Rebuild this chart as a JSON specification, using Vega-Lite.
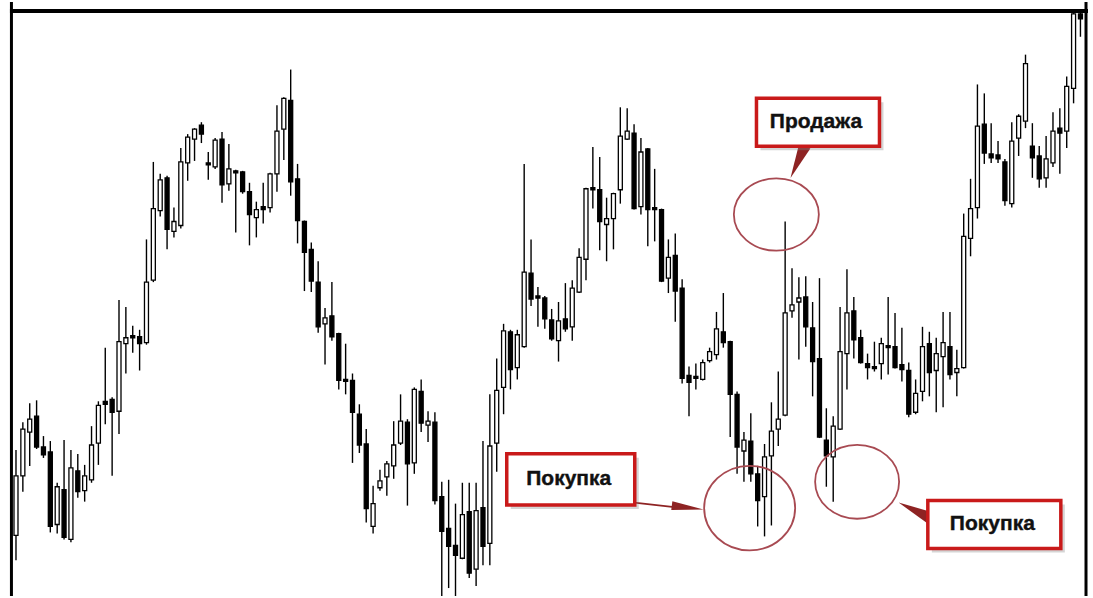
{
  "$schema": "https://vega.github.io/schema/vega-lite/v6.json",
  "width": 1093,
  "height": 598,
  "autosize": {"type": "fit", "contains": "padding"},
  "padding": 0,
  "background": "white",
  "config": {"view": {"stroke": null}},
  "datasets": {
    "candles": [
      {"i":0,"o":61,"h":147,"l":36,"c":121},{"i":1,"o":121,"h":175,"l":105,"c":168},{"i":2,"o":165,"h":194,"l":131,"c":178},{"i":3,"o":181,"h":197,"l":148,"c":150},{"i":4,"o":150,"h":161,"l":139,"c":142},{"i":5,"o":145,"h":156,"l":64,"c":70},{"i":6,"o":72,"h":114,"l":63,"c":110},{"i":7,"o":107,"h":157,"l":57,"c":59},{"i":8,"o":57,"h":147,"l":54,"c":129},{"i":9,"o":126,"h":143,"l":99,"c":105},
      {"i":10,"o":106,"h":132,"l":95,"c":121},{"i":11,"o":117,"h":171,"l":114,"c":152},{"i":12,"o":154,"h":196,"l":132,"c":192},{"i":13,"o":196,"h":250,"l":173,"c":193},{"i":14,"o":198,"h":200,"l":121,"c":185},{"i":15,"o":186,"h":298,"l":163,"c":256},{"i":16,"o":254,"h":291,"l":224,"c":260},{"i":17,"o":262,"h":272,"l":245,"c":260},{"i":18,"o":261,"h":268,"l":227,"c":254},{"i":19,"o":255,"h":359,"l":253,"c":316},
      {"i":20,"o":318,"h":437,"l":316,"c":390},{"i":21,"o":388,"h":425,"l":382,"c":419},{"i":22,"o":421,"h":423,"l":349,"c":369},{"i":23,"o":367,"h":391,"l":361,"c":377},{"i":24,"o":373,"h":451,"l":370,"c":437},{"i":25,"o":436,"h":465,"l":418,"c":462},{"i":26,"o":460,"h":471,"l":438,"c":470},{"i":27,"o":474,"h":477,"l":456,"c":465},{"i":28,"o":436,"h":447,"l":419,"c":434},{"i":29,"o":432,"h":461,"l":430,"c":459},
      {"i":30,"o":460,"h":467,"l":396,"c":414},{"i":31,"o":415,"h":455,"l":408,"c":430},{"i":32,"o":428,"h":429,"l":366,"c":426},{"i":33,"o":427,"h":428,"l":405,"c":407},{"i":34,"o":407,"h":416,"l":353,"c":384},{"i":35,"o":381,"h":397,"l":361,"c":389},{"i":36,"o":392,"h":416,"l":375,"c":389},{"i":37,"o":391,"h":426,"l":386,"c":425},{"i":38,"o":425,"h":494,"l":407,"c":468},{"i":39,"o":470,"h":502,"l":439,"c":501},
      {"i":40,"o":499,"h":530,"l":403,"c":417},{"i":41,"o":420,"h":435,"l":355,"c":378},{"i":42,"o":377,"h":378,"l":307,"c":346},{"i":43,"o":349,"h":356,"l":306,"c":317},{"i":44,"o":316,"h":337,"l":265,"c":271},{"i":45,"o":274,"h":290,"l":233,"c":280},{"i":46,"o":282,"h":316,"l":257,"c":261},{"i":47,"o":264,"h":265,"l":208,"c":217},{"i":48,"o":218,"h":254,"l":203,"c":216},{"i":49,"o":217,"h":224,"l":134,"c":185},
      {"i":50,"o":183,"h":193,"l":144,"c":152},{"i":51,"o":153,"h":168,"l":74,"c":88},{"i":52,"o":70,"h":111,"l":63,"c":93},{"i":53,"o":109,"h":127,"l":106,"c":116},{"i":54,"o":120,"h":136,"l":101,"c":133},{"i":55,"o":131,"h":176,"l":118,"c":152},{"i":56,"o":154,"h":203,"l":152,"c":176},{"i":57,"o":175,"h":178,"l":91,"c":133},{"i":58,"o":134,"h":210,"l":123,"c":208},{"i":59,"o":206,"h":218,"l":165,"c":174},
      {"i":60,"o":172,"h":186,"l":155,"c":176},{"i":61,"o":175,"h":185,"l":92,"c":96},{"i":62,"o":100,"h":115,"l":0,"c":65},{"i":63,"o":68,"h":117,"l":8,"c":50},{"i":64,"o":51,"h":93,"l":0,"c":41},{"i":65,"o":38,"h":114,"l":37,"c":82},{"i":66,"o":85,"h":114,"l":18,"c":23},{"i":67,"o":27,"h":114,"l":10,"c":86},{"i":68,"o":89,"h":156,"l":31,"c":50},{"i":69,"o":53,"h":203,"l":31,"c":151},
      {"i":70,"o":154,"h":239,"l":125,"c":207},{"i":71,"o":210,"h":274,"l":183,"c":267},{"i":72,"o":266,"h":268,"l":208,"c":228},{"i":73,"o":230,"h":268,"l":218,"c":263},{"i":74,"o":251,"h":435,"l":250,"c":326},{"i":75,"o":325,"h":359,"l":292,"c":299},{"i":76,"o":302,"h":311,"l":271,"c":300},{"i":77,"o":300,"h":302,"l":269,"c":279},{"i":78,"o":278,"h":289,"l":257,"c":259},{"i":79,"o":257,"h":296,"l":236,"c":277},
      {"i":80,"o":279,"h":315,"l":266,"c":269},{"i":81,"o":271,"h":318,"l":257,"c":310},{"i":82,"o":306,"h":350,"l":305,"c":341},{"i":83,"o":339,"h":411,"l":318,"c":410},{"i":84,"o":411,"h":452,"l":390,"c":409},{"i":85,"o":409,"h":442,"l":348,"c":377},{"i":86,"o":374,"h":401,"l":337,"c":380},{"i":87,"o":380,"h":406,"l":349,"c":405},{"i":88,"o":409,"h":492,"l":395,"c":463},{"i":89,"o":460,"h":491,"l":459,"c":468},
      {"i":90,"o":466,"h":475,"l":389,"c":390},{"i":91,"o":392,"h":461,"l":384,"c":447},{"i":92,"o":450,"h":451,"l":352,"c":389},{"i":93,"o":391,"h":430,"l":357,"c":389},{"i":94,"o":389,"h":390,"l":316,"c":317},{"i":95,"o":320,"h":359,"l":305,"c":341},{"i":96,"o":343,"h":365,"l":276,"c":307},{"i":97,"o":310,"h":319,"l":214,"c":219},{"i":98,"o":222,"h":231,"l":181,"c":215},{"i":99,"o":221,"h":234,"l":208,"c":219},
      {"i":100,"o":218,"h":238,"l":217,"c":235},{"i":101,"o":237,"h":250,"l":235,"c":246},{"i":102,"o":243,"h":286,"l":238,"c":269},{"i":103,"o":266,"h":305,"l":250,"c":255},{"i":104,"o":256,"h":257,"l":160,"c":203},{"i":105,"o":203,"h":206,"l":123,"c":150},{"i":106,"o":146,"h":165,"l":115,"c":157},{"i":107,"o":156,"h":184,"l":115,"c":123},{"i":108,"o":123,"h":131,"l":70,"c":96},{"i":109,"o":100,"h":153,"l":60,"c":140},
      {"i":110,"o":141,"h":195,"l":71,"c":166},{"i":111,"o":168,"h":226,"l":151,"c":178},{"i":112,"o":182,"h":377,"l":181,"c":285},{"i":113,"o":287,"h":330,"l":280,"c":293},{"i":114,"o":296,"h":321,"l":238,"c":300},{"i":115,"o":301,"h":322,"l":251,"c":271},{"i":116,"o":270,"h":296,"l":201,"c":236},{"i":117,"o":239,"h":320,"l":159,"c":160},{"i":118,"o":157,"h":189,"l":110,"c":141},{"i":119,"o":140,"h":181,"l":95,"c":171},
      {"i":120,"o":168,"h":291,"l":167,"c":246},{"i":121,"o":244,"h":329,"l":208,"c":285},{"i":122,"o":287,"h":301,"l":239,"c":258},{"i":123,"o":260,"h":268,"l":234,"c":235},{"i":124,"o":234,"h":244,"l":218,"c":230},{"i":125,"o":231,"h":256,"l":226,"c":229},{"i":126,"o":234,"h":260,"l":218,"c":254},{"i":127,"o":252,"h":301,"l":223,"c":250},{"i":128,"o":251,"h":285,"l":229,"c":230},{"i":129,"o":233,"h":270,"l":216,"c":228},
      {"i":130,"o":227,"h":235,"l":180,"c":183},{"i":131,"o":185,"h":218,"l":183,"c":204},{"i":132,"o":206,"h":271,"l":196,"c":251},{"i":133,"o":254,"h":266,"l":201,"c":225},{"i":134,"o":227,"h":260,"l":185,"c":244},{"i":135,"o":241,"h":286,"l":190,"c":255},{"i":136,"o":251,"h":286,"l":218,"c":223},{"i":137,"o":225,"h":248,"l":201,"c":229},{"i":138,"o":230,"h":385,"l":229,"c":362},{"i":139,"o":360,"h":420,"l":342,"c":390},
      {"i":140,"o":391,"h":515,"l":380,"c":473},{"i":141,"o":475,"h":506,"l":435,"c":446},{"i":142,"o":445,"h":476,"l":436,"c":441},{"i":143,"o":444,"h":458,"l":436,"c":440},{"i":144,"o":437,"h":440,"l":393,"c":398},{"i":145,"o":395,"h":477,"l":391,"c":458},{"i":146,"o":461,"h":485,"l":443,"c":483},{"i":147,"o":478,"h":545,"l":471,"c":536},{"i":148,"o":453,"h":476,"l":421,"c":441},{"i":149,"o":443,"h":453,"l":411,"c":420},
      {"i":150,"o":421,"h":463,"l":411,"c":440},{"i":151,"o":436,"h":487,"l":432,"c":468},{"i":152,"o":471,"h":491,"l":425,"c":466},{"i":153,"o":468,"h":523,"l":451,"c":513},{"i":154,"o":511,"h":590,"l":496,"c":586},{"i":155,"o":586,"h":590,"l":563,"c":581}
    ],
    "notes": [
      {"note":"circle-sell","i":110.72,"p":384},
      {"note":"circle-buy1","i":106.83,"p":88.5},
      {"note":"circle-buy2","i":122.48,"p":115},
      {"note":"box-sell","i":116.78,"p":477,"text":"Продажа"},
      {"note":"box-buy1","i":80.78,"p":117.5,"text":"Покупка"},
      {"note":"box-buy2","i":142.46,"p":72,"text":"Покупка"},
      {"note":"pointer-sell","i":113.82,"p":437},
      {"note":"head-buy1","i":97.81,"p":89},
      {"note":"pointer-buy2","i":130.78,"p":86.5}
    ],
    "lines": [
      {"note":"line-buy1","i":90.02,"p":94,"i2":96.51,"p2":89}
    ],
    "frame": [
      {"side":"frame"}
    ]
  },
  "layer": [
    {
      "data": {"name": "candles"},
      "mark": {"type": "rule", "color": "black", "strokeWidth": 1.4},
      "encoding": {
        "x": {"field": "i", "type": "quantitative", "scale": {"domain": [-1.6, 156.1], "nice": false, "zero": false}, "axis": null},
        "y": {"field": "l", "type": "quantitative", "scale": {"domain": [0, 598], "nice": false, "zero": false}, "axis": null},
        "y2": {"field": "h"}
      }
    },
    {
      "data": {"name": "candles"},
      "mark": {"type": "bar", "size": 4, "stroke": "black", "strokeWidth": 1.3},
      "encoding": {
        "x": {"field": "i", "type": "quantitative"},
        "y": {"field": "o", "type": "quantitative"},
        "y2": {"field": "c"},
        "fill": {"condition": {"test": "datum.c < datum.o", "value": "black"}, "value": "white"}
      }
    },
    {
      "data": {"name": "frame"},
      "mark": {"type": "rule", "color": "black", "strokeWidth": 3},
      "encoding": {"x": {"datum": -0.662}}
    },
    {
      "data": {"name": "frame"},
      "mark": {"type": "rule", "color": "black", "strokeWidth": 3},
      "encoding": {"x": {"datum": 155.81}}
    },
    {
      "data": {"name": "frame"},
      "mark": {"type": "rule", "color": "black", "strokeWidth": 4},
      "encoding": {"y": {"datum": 589}, "x": {"datum": -0.879}, "x2": {"datum": 156.1}}
    },
    {
      "data": {"name": "notes"},
      "transform": [{"filter": "datum.note == 'circle-sell'"}],
      "mark": {"type": "point", "shape": "M -1 0 A 1 0.85 0 1 0 1 0 A 1 0.85 0 1 0 -1 0 Z", "size": 7225, "filled": false, "stroke": "#a84a52", "strokeWidth": 1.8, "opacity": 1},
      "encoding": {"x": {"field": "i", "type": "quantitative"}, "y": {"field": "p", "type": "quantitative"}}
    },
    {
      "data": {"name": "notes"},
      "transform": [{"filter": "datum.note == 'circle-buy1'"}],
      "mark": {"type": "point", "shape": "M -1 0 A 1 0.93 0 1 0 1 0 A 1 0.93 0 1 0 -1 0 Z", "size": 8281, "filled": false, "stroke": "#a84a52", "strokeWidth": 1.8, "opacity": 1},
      "encoding": {"x": {"field": "i", "type": "quantitative"}, "y": {"field": "p", "type": "quantitative"}}
    },
    {
      "data": {"name": "notes"},
      "transform": [{"filter": "datum.note == 'circle-buy2'"}],
      "mark": {"type": "point", "shape": "M -1 0 A 1 0.88 0 1 0 1 0 A 1 0.88 0 1 0 -1 0 Z", "size": 7056, "filled": false, "stroke": "#a84a52", "strokeWidth": 1.8, "opacity": 1},
      "encoding": {"x": {"field": "i", "type": "quantitative"}, "y": {"field": "p", "type": "quantitative"}}
    },
    {
      "data": {"name": "lines"},
      "mark": {"type": "rule", "color": "#8e2323", "strokeWidth": 1.6},
      "encoding": {
        "x": {"field": "i", "type": "quantitative"}, "x2": {"field": "i2"},
        "y": {"field": "p", "type": "quantitative"}, "y2": {"field": "p2"}
      }
    },
    {
      "data": {"name": "notes"},
      "transform": [{"filter": "datum.note == 'head-buy1'"}],
      "mark": {"type": "point", "shape": "M 1 0 L -1 -0.28 L -1 0.28 Z", "size": 1024, "angle": 7, "filled": true, "fill": "#8e2323", "strokeWidth": 0, "opacity": 1},
      "encoding": {"x": {"field": "i", "type": "quantitative"}, "y": {"field": "p", "type": "quantitative"}}
    },
    {
      "data": {"name": "notes"},
      "transform": [{"filter": "datum.note == 'pointer-sell'"}],
      "mark": {"type": "point", "shape": "M 1 0 L -1 -0.35 L -1 0.35 Z", "size": 1225, "angle": 114, "filled": true, "fill": "#8e2323", "strokeWidth": 0, "opacity": 1},
      "encoding": {"x": {"field": "i", "type": "quantitative"}, "y": {"field": "p", "type": "quantitative"}}
    },
    {
      "data": {"name": "notes"},
      "transform": [{"filter": "datum.note == 'pointer-buy2'"}],
      "mark": {"type": "point", "shape": "M 1 0 L -1 -0.35 L -1 0.35 Z", "size": 1190, "angle": 206, "filled": true, "fill": "#8e2323", "strokeWidth": 0, "opacity": 1},
      "encoding": {"x": {"field": "i", "type": "quantitative"}, "y": {"field": "p", "type": "quantitative"}}
    },
    {
      "data": {"name": "notes"},
      "transform": [{"filter": "datum.note == 'box-sell'"}],
      "mark": {"type": "point", "shape": "M -1 -0.39 L 1 -0.39 L 1 0.39 L -1 0.39 Z", "size": 15129, "filled": true, "fill": "#888888", "strokeWidth": 0, "opacity": 0.35, "xOffset": 4, "yOffset": 4},
      "encoding": {"x": {"field": "i", "type": "quantitative"}, "y": {"field": "p", "type": "quantitative"}}
    },
    {
      "data": {"name": "notes"},
      "transform": [{"filter": "datum.note == 'box-buy1'"}],
      "mark": {"type": "point", "shape": "M -1 -0.4 L 1 -0.4 L 1 0.4 L -1 0.4 Z", "size": 16384, "filled": true, "fill": "#888888", "strokeWidth": 0, "opacity": 0.35, "xOffset": 4, "yOffset": 4},
      "encoding": {"x": {"field": "i", "type": "quantitative"}, "y": {"field": "p", "type": "quantitative"}}
    },
    {
      "data": {"name": "notes"},
      "transform": [{"filter": "datum.note == 'box-buy2'"}],
      "mark": {"type": "point", "shape": "M -1 -0.36 L 1 -0.36 L 1 0.36 L -1 0.36 Z", "size": 17689, "filled": true, "fill": "#888888", "strokeWidth": 0, "opacity": 0.35, "xOffset": 4, "yOffset": 4},
      "encoding": {"x": {"field": "i", "type": "quantitative"}, "y": {"field": "p", "type": "quantitative"}}
    },
    {
      "data": {"name": "notes"},
      "transform": [{"filter": "datum.note == 'box-sell'"}],
      "mark": {"type": "point", "shape": "M -1 -0.39 L 1 -0.39 L 1 0.39 L -1 0.39 Z", "size": 15129, "filled": true, "fill": "white", "stroke": "#c91a1a", "strokeWidth": 3.5, "opacity": 1},
      "encoding": {"x": {"field": "i", "type": "quantitative"}, "y": {"field": "p", "type": "quantitative"}}
    },
    {
      "data": {"name": "notes"},
      "transform": [{"filter": "datum.note == 'box-buy1'"}],
      "mark": {"type": "point", "shape": "M -1 -0.4 L 1 -0.4 L 1 0.4 L -1 0.4 Z", "size": 16384, "filled": true, "fill": "white", "stroke": "#c91a1a", "strokeWidth": 3.5, "opacity": 1},
      "encoding": {"x": {"field": "i", "type": "quantitative"}, "y": {"field": "p", "type": "quantitative"}}
    },
    {
      "data": {"name": "notes"},
      "transform": [{"filter": "datum.note == 'box-buy2'"}],
      "mark": {"type": "point", "shape": "M -1 -0.36 L 1 -0.36 L 1 0.36 L -1 0.36 Z", "size": 17689, "filled": true, "fill": "white", "stroke": "#c91a1a", "strokeWidth": 3.5, "opacity": 1},
      "encoding": {"x": {"field": "i", "type": "quantitative"}, "y": {"field": "p", "type": "quantitative"}}
    },
    {
      "data": {"name": "notes"},
      "transform": [{"filter": "isValid(datum.text)"}],
      "mark": {"type": "text", "font": "Liberation Sans", "fontWeight": "bold", "fontSize": 21, "color": "#111111", "stroke": "#111111", "strokeWidth": 0.4, "align": "center", "baseline": "middle", "dx": -2},
      "encoding": {"x": {"field": "i", "type": "quantitative"}, "y": {"field": "p", "type": "quantitative"}, "text": {"field": "text"}}
    }
  ]
}
